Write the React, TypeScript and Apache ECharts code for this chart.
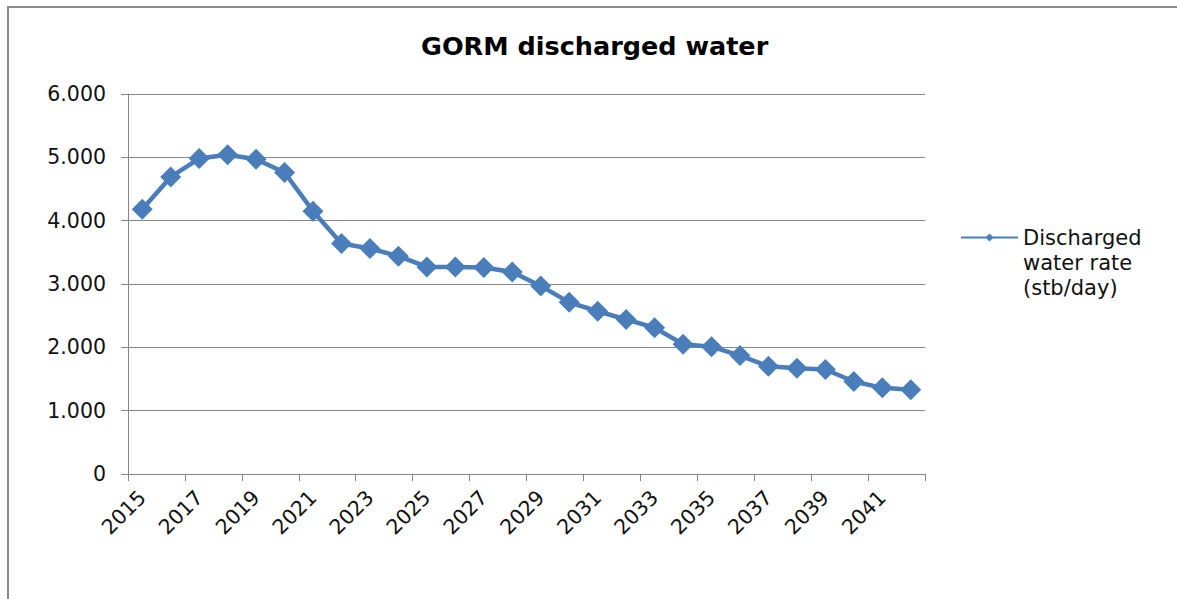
import React, { useEffect, useRef } from "react";
import * as echarts from "echarts";

const years: string[] = [
  "2015", "2016", "2017", "2018", "2019", "2020", "2021", "2022", "2023", "2024",
  "2025", "2026", "2027", "2028", "2029", "2030", "2031", "2032", "2033", "2034",
  "2035", "2036", "2037", "2038", "2039", "2040", "2041", "2042",
];
const dischargedWater: number[] = [
  4180, 4690, 4980, 5040, 4970, 4760, 4150, 3640, 3560, 3440,
  3270, 3270, 3260, 3190, 2970, 2710, 2570, 2440, 2310, 2050,
  2010, 1870, 1700, 1670, 1650, 1460, 1360, 1330,
];
const seriesName = "Discharged water rate (stb/day)";
const legendLines: string[] = ["Discharged", "water rate", "(stb/day)"];
const titleText = "GORM discharged water";

const FONT = "'DejaVu Sans', Verdana, sans-serif";

export default function App() {
  const ref = useRef<HTMLDivElement>(null);
  useEffect(() => {
    if (!ref.current) return;
    const chart = echarts.init(ref.current, null, { renderer: "svg" });
    chart.setOption({
      animation: false,
      backgroundColor: "#ffffff",
      textStyle: { fontFamily: FONT },
      title: {
        text: titleText,
        left: 416,
        top: 28,
        textStyle: { fontFamily: FONT, fontSize: 25.5, fontWeight: "bold", color: "#000" },
      },
      legend: {
        left: 960,
        top: 175,
        padding: 0,
        itemWidth: 57,
        itemHeight: 10,
        data: [seriesName],
        formatter: () => "\n\n" + legendLines.join("\n"),
        textStyle: {
          fontFamily: FONT,
          fontSize: 21,
          lineHeight: 25,
          color: "#111",
        },
      },
      graphic: [
        {
          type: "rect",
          shape: { x: 8, y: 7, width: 1400, height: 800 },
          style: { fill: "none", stroke: "#8a8a8a", lineWidth: 2 },
          silent: true,
        },
      ],
      grid: { left: 128, right: 252, top: 94, bottom: 125 },
      xAxis: {
        type: "category",
        data: years,
        boundaryGap: true,
        axisLine: { lineStyle: { color: "#868686", width: 1 } },
        axisTick: { show: true, interval: 1, length: 7, lineStyle: { color: "#868686" } },
        axisLabel: {
          interval: 1,
          rotate: 45,
          margin: 20,
          fontFamily: FONT,
          fontSize: 20.5,
          color: "#111",
        },
        splitLine: { show: false },
      },
      yAxis: {
        type: "value",
        min: 0,
        max: 6000,
        interval: 1000,
        axisLine: { show: true, lineStyle: { color: "#868686", width: 1 } },
        axisTick: { show: true, length: 7, lineStyle: { color: "#868686" } },
        axisLabel: {
          margin: 22,
          fontFamily: FONT,
          fontSize: 20.5,
          color: "#111",
          formatter: (v: number) => (v === 0 ? "0" : (v / 1000).toFixed(3)),
        },
        splitLine: { show: true, lineStyle: { color: "#868686", width: 1 } },
      },
      series: [
        {
          name: seriesName,
          type: "line",
          data: dischargedWater,
          symbol: "diamond",
          symbolSize: 21,
          showAllSymbol: true,
          lineStyle: { color: "#4a7ebb", width: 4.5 },
          itemStyle: { color: "#4a7ebb" },
        },
      ],
    });
    return () => chart.dispose();
  }, []);
  return (
    <div
      ref={ref}
      style={{ position: "absolute", left: 0, top: 0, width: 1177, height: 599 }}
    />
  );
}
